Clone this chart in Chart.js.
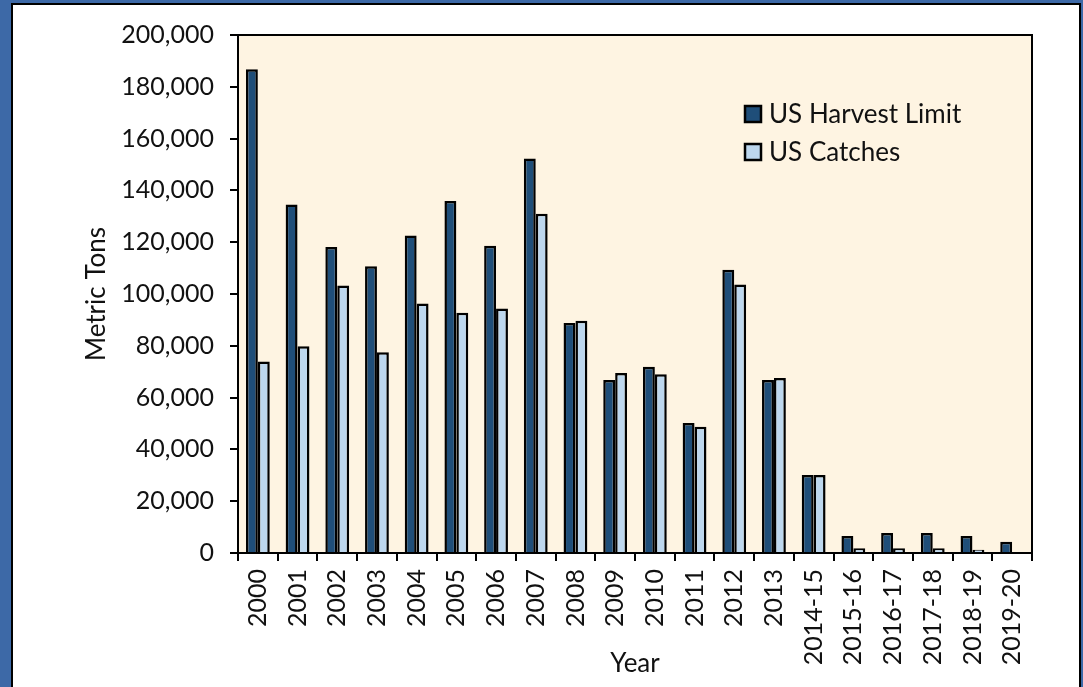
<!DOCTYPE html>
<html>
<head>
<meta charset="utf-8">
<script src="https://cdn.jsdelivr.net/npm/chart.js@4"></script>
<style>
  html, body { margin: 0; padding: 0; }
  body { width: 1083px; height: 687px; background: #3d69a7; position: relative; overflow: hidden; }
  .panel { position: absolute; left: 11px; top: 3px; width: 1066px; height: 700px; background: #fff; border: 2px solid #000; }
  #mychart { position: absolute; left: 0; top: 0; }
</style>
</head>
<body>
<div class="panel"></div>
<canvas id="mychart" width="1083" height="687"></canvas>
<script>
const years = ['2000', '2001', '2002', '2003', '2004', '2005', '2006', '2007', '2008', '2009', '2010',
  '2011', '2012', '2013', '2014-15', '2015-16', '2016-17', '2017-18', '2018-19', '2019-20'];
const harvestLimit = [186800, 134600, 118100, 110700, 122600, 135900, 118600, 152300, 88800, 66800, 71900,
  50200, 109400, 66800, 30100, 6600, 7700, 7700, 6600, 4300];
const catches = [73900, 79800, 103300, 77500, 96300, 92800, 94400, 131000, 89700, 69500, 69000,
  48700, 103700, 67600, 30100, 1800, 1800, 1800, 1300, 0];
const yTicks = [0, 20000, 40000, 60000, 80000, 100000, 120000, 140000, 160000, 180000, 200000];

const font = 'Lato';
const textColor = '#111';

// cream plot box + legend in the top right corner
const plotBox = {
    id: 'plotBox',
    beforeDatasetsDraw(chart) {
        const { ctx, chartArea: a } = chart;
        ctx.save();
        ctx.fillStyle = '#fef4e2';
        ctx.fillRect(a.left, a.top, a.right - a.left, a.bottom - a.top);
        ctx.restore();
    },
    afterDraw(chart) {
        const { ctx, chartArea: a } = chart;
        ctx.save();
        ctx.strokeStyle = '#000';
        ctx.lineWidth = 2;
        ctx.strokeRect(a.left, a.top, a.right - a.left, a.bottom - a.top);

        ctx.font = '26px ' + font;
        ctx.textBaseline = 'middle';
        ctx.lineWidth = 2.5;
        chart.data.datasets.forEach((ds, i) => {
            const y = 114 + i * 38;
            ctx.fillStyle = ds.backgroundColor;
            ctx.fillRect(745, y - 8, 16, 16);
            ctx.strokeRect(745, y - 8, 16, 16);
            ctx.fillStyle = textColor;
            ctx.fillText(ds.label, 769, y + 1);
        });
        ctx.restore();
    }
};

const ctx = document.getElementById('mychart').getContext('2d');
let myChart = new Chart(ctx, {
    type: 'bar',
    data: {
        labels: years,
        datasets: [
            {
                label: 'US Harvest Limit',
                data: harvestLimit,
                backgroundColor: '#1f4e79',
                borderColor: '#000',
                borderWidth: 2.5,
                categoryPercentage: 0.6,
                barPercentage: 1.0
            },
            {
                label: 'US Catches',
                data: catches,
                backgroundColor: '#bdd7ee',
                borderColor: '#000',
                borderWidth: 2.5,
                categoryPercentage: 0.6,
                barPercentage: 1.0
            }
        ]
    },
    options: {
        responsive: false,
        animation: false,
        layout: { padding: { left: 79, top: 35, right: 51, bottom: 6 } },
        plugins: {
            legend: { display: false },
            tooltip: { enabled: false }
        },
        scales: {
            x: {
                grid: { display: true, offset: true, drawOnChartArea: false, drawTicks: true, tickLength: 8, color: '#000', lineWidth: 2 },
                border: { display: true, color: '#000', width: 2 },
                ticks: { color: textColor, font: { family: font, size: 25 }, minRotation: 90, maxRotation: 90, padding: 8, autoSkip: false },
                title: { display: true, text: 'Year', color: textColor, font: { family: font, size: 26 }, padding: { top: 0, bottom: 2 } },
                afterFit(scale) { scale.height = 128; }
            },
            y: {
                min: 0,
                max: 200000,
                afterBuildTicks(scale) { scale.ticks = yTicks.map(v => ({ value: v })); },
                grid: { display: true, drawOnChartArea: false, drawTicks: true, tickLength: 8, color: '#000', lineWidth: 2 },
                border: { display: true, color: '#000', width: 2 },
                ticks: { color: textColor, font: { family: font, size: 25 }, padding: 16,
                    callback: v => v.toLocaleString('en-US') },
                title: { display: true, text: 'Metric Tons', color: textColor, font: { family: font, size: 26 }, padding: { top: 2, bottom: 0 } },
                afterFit(scale) { scale.width = 159; }
            }
        }
    },
    plugins: [plotBox]
});
</script>
</body>
</html>
